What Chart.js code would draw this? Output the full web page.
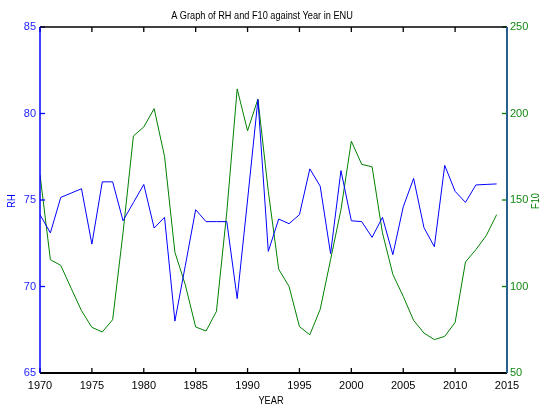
<!DOCTYPE html>
<html>
<head>
<meta charset="utf-8">
<script src="https://cdn.jsdelivr.net/npm/chart.js@4.4.0/dist/chart.umd.min.js"></script>
<style>
  html, body { margin: 0; padding: 0; background: #fff; }
  #wrap { width: 541px; height: 410px; }
</style>
</head>
<body>
<div id="wrap"><canvas id="graph" width="541" height="410"></canvas></div>
<script>
const years = [
  1970, 1971, 1972, 1973, 1974, 1975, 1976, 1977, 1978, 1979,
  1980, 1981, 1982, 1983, 1984, 1985, 1986, 1987, 1988, 1989,
  1990, 1991, 1992, 1993, 1994, 1995, 1996, 1997, 1998, 1999,
  2000, 2001, 2002, 2003, 2004, 2005, 2006, 2007, 2008, 2009,
  2010, 2011, 2012, 2013, 2014
];
const rh = [
  74.15, 73.1, 75.15, 75.4, 75.65, 72.45, 76.05, 76.05, 73.8, 74.85,
  75.9, 73.38, 74.0, 68.0, 71.2, 74.44, 73.75, 73.75, 73.75, 69.3,
  75.0, 80.8, 72.03, 73.9, 73.63, 74.15, 76.8, 75.8, 71.9, 76.7,
  73.8, 73.75, 72.84, 74.0, 71.84, 74.6, 76.25, 73.4, 72.3, 77.0,
  75.5, 74.86, 75.87, 75.9, 75.93
];
const f10 = [
  164.6, 115.5, 112.2, 99, 86, 76.4, 73.7, 80.8, 131, 187,
  192.2, 202.8, 175.2, 119.8, 101, 76.6, 74.3, 85.6, 143, 214.2,
  190, 208.4, 155, 110, 100, 76.8, 72.1, 86.8, 115.5, 144.4,
  184, 170.6, 169.2, 131, 107, 94.3, 80.4, 73.1, 69.3, 71.2,
  79.2, 114.2, 121.3, 129.4, 141.5
];
const titleText = 'A Graph of RH and F10 against Year in ENU';
const xLabel = 'YEAR';
const leftLabel = 'RH';
const rightLabel = 'F10';

const fontFamily = "'Liberation Sans', Arial, sans-serif";
const tickFont = { family: fontFamily, size: 11 };
const blue = '#0000ff';
const green = '#008000';

// draws text squeezed a bit, the original font is a narrow one
function narrowText(ctx, text, x, y, rot) {
  ctx.save();
  ctx.translate(x, y);
  if (rot) ctx.rotate(rot);
  ctx.scale(0.8, 1);
  ctx.fillText(text, 0, 0);
  ctx.restore();
}

// MATLAB-ish frame: inward ticks, coloured y axes, title and axis labels
const framePlugin = {
  id: 'frame',
  afterDatasetsDraw(chart) {
    const { ctx, chartArea: a, scales } = chart;
    ctx.save();

    // x ticks, bottom and top, pointing inwards
    ctx.strokeStyle = '#000';
    ctx.lineWidth = 1.3;
    scales.x.ticks.forEach(t => {
      const px = scales.x.getPixelForValue(t.value);
      ctx.beginPath();
      ctx.moveTo(px, a.bottom);
      ctx.lineTo(px, a.bottom - 5);
      ctx.moveTo(px, a.top);
      ctx.lineTo(px, a.top + 5);
      ctx.stroke();
    });

    // left ticks
    ctx.strokeStyle = blue;
    scales.y.ticks.forEach(t => {
      const py = scales.y.getPixelForValue(t.value);
      ctx.beginPath();
      ctx.moveTo(a.left, py);
      ctx.lineTo(a.left + 5, py);
      ctx.stroke();
    });

    // right ticks
    ctx.strokeStyle = green;
    scales.y2.ticks.forEach(t => {
      const py = scales.y2.getPixelForValue(t.value);
      ctx.beginPath();
      ctx.moveTo(a.right, py);
      ctx.lineTo(a.right - 5, py);
      ctx.stroke();
    });

    // axis lines
    ctx.lineWidth = 1.5;
    ctx.strokeStyle = '#000';
    ctx.beginPath();
    ctx.moveTo(a.left, a.top);
    ctx.lineTo(a.right, a.top);
    ctx.stroke();
    ctx.lineWidth = 2;
    ctx.beginPath();
    ctx.moveTo(a.left, a.bottom);
    ctx.lineTo(a.right, a.bottom);
    ctx.stroke();
    ctx.lineWidth = 1.5;
    ctx.strokeStyle = blue;
    ctx.beginPath();
    ctx.moveTo(a.left, a.top);
    ctx.lineTo(a.left, a.bottom);
    ctx.stroke();
    ctx.lineWidth = 2;
    ctx.strokeStyle = '#25618c';
    ctx.beginPath();
    ctx.moveTo(a.right, a.top);
    ctx.lineTo(a.right, a.bottom);
    ctx.stroke();

    // texts
    ctx.font = '11.5px ' + fontFamily;
    ctx.textAlign = 'center';
    ctx.textBaseline = 'alphabetic';
    ctx.fillStyle = '#000';
    narrowText(ctx, titleText, 262, 18.5);
    ctx.textBaseline = 'middle';
    narrowText(ctx, xLabel, 271, 401);

    ctx.fillStyle = blue;
    narrowText(ctx, leftLabel, 12, 201, -Math.PI / 2);

    ctx.fillStyle = green;
    narrowText(ctx, rightLabel, 535.5, 201, -Math.PI / 2);
    ctx.restore();
  }
};

const chartOptions = {
  type: 'line',
  data: {
    datasets: [
      {
        label: leftLabel,
        data: years.map((y, i) => ({ x: y, y: rh[i] })),
        borderColor: blue,
        borderWidth: 1,
        pointRadius: 0,
        tension: 0,
        fill: false,
        yAxisID: 'y',
      },
      {
        label: rightLabel,
        data: years.map((y, i) => ({ x: y, y: f10[i] })),
        borderColor: green,
        borderWidth: 1,
        pointRadius: 0,
        tension: 0,
        fill: false,
        yAxisID: 'y2',
      }
    ]
  },
  options: {
    responsive: false,
    animation: false,
    layout: {
      padding: { top: 27, left: 0, right: 0, bottom: 0 }
    },
    scales: {
      x: {
        type: 'linear',
        position: 'bottom',
        min: 1970,
        max: 2015,
        grid: { display: false, drawTicks: false },
        border: { display: false },
        ticks: {
          stepSize: 5,
          color: '#000',
          font: tickFont,
          padding: 6,
          maxRotation: 0,
          callback: v => String(v),
        },
        afterFit: s => { s.height = 37; },
      },
      y: {
        position: 'left',
        min: 65,
        max: 85,
        grid: { display: false, drawTicks: false },
        border: { display: false },
        ticks: {
          stepSize: 5,
          color: '#2222ff',
          font: tickFont,
          padding: 4,
        },
        afterFit: s => { s.width = 40; },
      },
      y2: {
        position: 'right',
        min: 50,
        max: 250,
        grid: { display: false, drawTicks: false },
        border: { display: false },
        ticks: {
          stepSize: 50,
          color: '#118811',
          font: tickFont,
          padding: 3,
        },
        afterFit: s => { s.width = 34; },
      },
    },
    plugins: {
      legend: { display: false },
      tooltip: { enabled: false },
      title: { display: false },
    },
  },
  plugins: [framePlugin],
};

const ctx = document.getElementById('graph').getContext('2d');
const lineChart = new Chart(ctx, chartOptions);
</script>
</body>
</html>
